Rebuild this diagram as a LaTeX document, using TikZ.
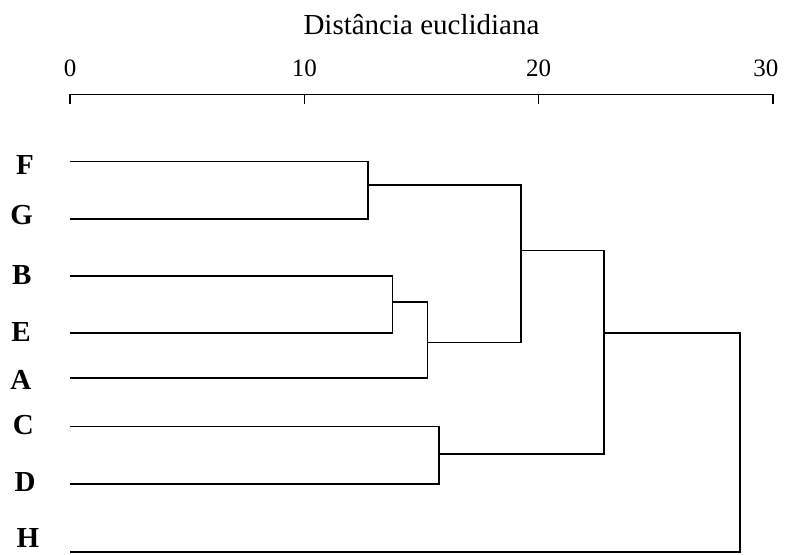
\documentclass[tikz,border=0pt]{standalone}
\usepackage{fontspec}
\setmainfont{Liberation Serif}
\usetikzlibrary{positioning}
\tikzset{link/.style={line width=0.8pt}}
\tikzset{leaf/.style={font=\fontsize{14.5}{16}\selectfont\bfseries, anchor=base, inner sep=0pt}}
\tikzset{ticklabel/.style={font=\fontsize{12.5}{14}\selectfont, anchor=base}}

\begin{document}
\begin{tikzpicture}[x=11.715pt, y=-0.5pt]
		\useasboundingbox (-2.988,0) rectangle (30.644,555);
		% distance axis
		\node[ticklabel, font=\fontsize{14.5}{16}\selectfont] (title) at (15,35) {Distância euclidiana};
		\coordinate (a0) at (0,94.5);
		\coordinate (a10) at (10,94.5);
		\coordinate (a20) at (20,94.5);
		\coordinate (a30) at (30,94.5);
		\node[ticklabel] (t0) at (0,77) {0};
		\node[ticklabel] (t10) at (10,77) {10};
		\node[ticklabel] (t20) at (20,77) {20};
		\node[ticklabel] (t30) at (29.7,77) {30};
		\draw[link] (a0) -- (a30);
		\draw[link] (a0) -- ++(0,9.5);
		\draw[link] (a10) -- ++(0,9.5);
		\draw[link] (a20) -- ++(0,9.5);
		\draw[link] (a30) -- ++(0,9.5);
		% leaves
		\node[leaf] (lF) at (-1.92,175) {F};
		\node[leaf] (lG) at (-2.06,225) {G};
		\node[leaf] (lB) at (-2.06,285) {B};
		\node[leaf] (lE) at (-2.09,341.7) {E};
		\node[leaf] (lA) at (-2.10,390) {A};
		\node[leaf] (lC) at (-1.99,435) {C};
		\node[leaf] (lD) at (-1.92,491.7) {D};
		\node[leaf] (lH) at (-1.80,548) {H};
		\coordinate (F) at (0,161.7);
		\coordinate (G) at (0,219);
		\coordinate (B) at (0,276);
		\coordinate (E) at (0,333);
		\coordinate (A) at (0,378.3);
		\coordinate (C) at (0,426.7);
		\coordinate (D) at (0,484);
		\coordinate (H) at (0,552);
		% merge heights
		\coordinate (FG) at (12.73,185);
		\coordinate (BE) at (13.76,302);
		\coordinate (BEA) at (15.25,342.7);
		\coordinate (FGBEA) at (19.24,250.7);
		\coordinate (CD) at (15.76,454);
		\coordinate (FGBEACD) at (22.79,333);
		\coordinate (root) at (28.6,440);
		\draw[link] (F) -| (FG) |- (G);
		\draw[link] (B) -| (BE) |- (E);
		\draw[link] (BE) -| (BEA) |- (A);
		\draw[link] (FG) -| (FGBEA) |- (BEA);
		\draw[link] (C) -| (CD) |- (D);
		\draw[link] (FGBEA) -| (FGBEACD) |- (CD);
		\draw[link] (FGBEACD) -| (root) |- (H);
	\end{tikzpicture}
\end{document}
